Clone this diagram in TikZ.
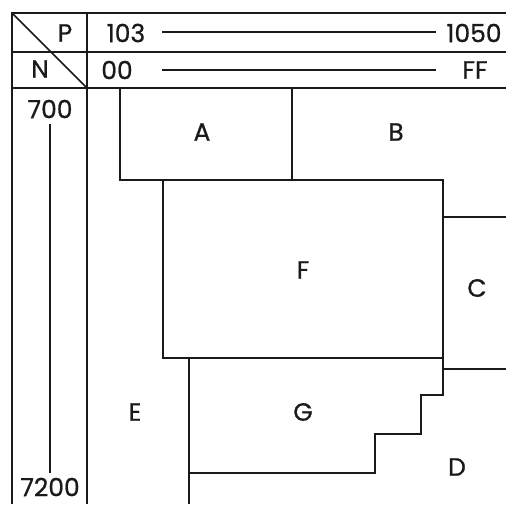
\documentclass[tikz,border=0pt]{standalone}
\usepackage{fontspec}
\setmainfont{Poppins}[FakeBold=0.8]
\usetikzlibrary{positioning}
\definecolor{inkblack}{HTML}{1A1A1A}

\begin{document}
\begin{tikzpicture}[x=1pt,y=-1pt,font=\fontsize{25}{25}\selectfont,
    frame/.style={line width=1.7pt,inkblack},
    plan/.style={line width=1.3pt,inkblack},
    lbl/.style={inner sep=0pt,inkblack}]
    \useasboundingbox (0,0) rectangle (506,504);

    % header frame
    \draw[frame] (506,13) -- (12,13) -- (12,504);
    \draw[frame] (12,52) -- (506,52);
    \draw[frame] (12,88) -- (506,88);
    \draw[frame] (87,13) -- (87,504);
    \draw[frame] (12,13) -- (87,88);

    % header labels
    \node[lbl] (hdP) at (65,33) {P};
    \node[lbl] (hdN) at (40,69) {N};
    \node[lbl] (pLow)  at (126,33) {103};
    \node[lbl] (pHigh) at (474,33) {1050};
    \node[lbl] (nLow)  at (117,70) {00};
    \node[lbl] (nHigh) at (475,70) {FF};
    \draw[plan] (162,32) -- (436,32);
    \draw[plan] (162,70) -- (436,70);

    % vertical range
    \node[lbl] (vLow)  at (50,109) {700};
    \node[lbl] (vHigh) at (50,487) {7200};
    \draw[plan] (50,124) -- (50,473);

    % plan outlines
    \draw[plan] (120,88) -- (120,180) -- (443,180) -- (443,395) -- (421,395)
                -- (421,434) -- (375,434) -- (375,473) -- (189,473);
    \draw[plan] (292,88) -- (292,180);
    \draw[plan] (163,180) -- (163,358) -- (443,358);
    \draw[plan] (189,358) -- (189,504);
    \draw[plan] (443,217) -- (506,217);
    \draw[plan] (443,369) -- (506,369);

    % region labels
    \node[lbl] (regA) at (202,132) {A};
    \node[lbl] (regB) at (396,132) {B};
    \node[lbl] (regF) at (303,270) {F};
    \node[lbl] (regC) at (477,288) {C};
    \node[lbl] (regE) at (135,412) {E};
    \node[lbl] (regG) at (303,412) {G};
    \node[lbl] (regD) at (457,467) {D};
\end{tikzpicture}
\end{document}
